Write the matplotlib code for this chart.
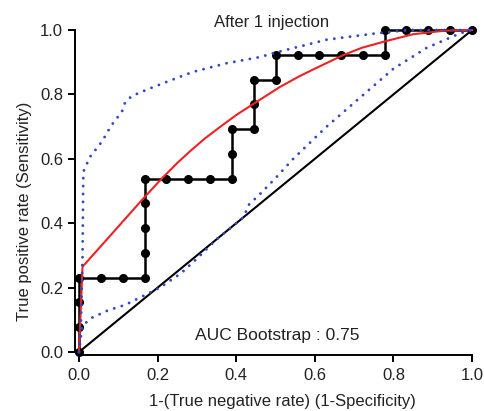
import matplotlib
matplotlib.use("Agg")
import matplotlib.pyplot as plt

plt.rcParams['font.family'] = ['Liberation Sans', 'DejaVu Sans']

# Empirical ROC (step curve with points)
fpr = [0, 0, 0, 0, 0.056, 0.111, 0.167, 0.167, 0.167, 0.167, 0.167,
       0.222, 0.278, 0.333, 0.389, 0.389, 0.389, 0.444, 0.444, 0.444,
       0.5, 0.5, 0.556, 0.611, 0.667, 0.722, 0.778, 0.778, 0.833, 0.889,
       0.944, 1.0]
tpr = [0, 0.077, 0.154, 0.231, 0.231, 0.231, 0.231, 0.308, 0.385, 0.462,
       0.538, 0.538, 0.538, 0.538, 0.538, 0.615, 0.692, 0.692, 0.769, 0.846,
       0.846, 0.923, 0.923, 0.923, 0.923, 0.923, 0.923, 1.0, 1.0, 1.0,
       1.0, 1.0]

# Smoothed (bootstrap) ROC curve
smooth_x = [0, 0.009, 0.08, 0.16, 0.21, 0.25, 0.282, 0.32, 0.36, 0.40, 0.443,
            0.511, 0.56, 0.6, 0.672, 0.72, 0.779, 0.85, 0.93, 1.0]
smooth_y = [0, 0.265, 0.362, 0.472, 0.538, 0.587, 0.623, 0.663, 0.70, 0.736,
            0.77, 0.823, 0.856, 0.88, 0.922, 0.945, 0.965, 0.987, 0.998, 1.0]

# Confidence band (upper)
upper_x = [0, 0.005, 0.009, 0.011, 0.028, 0.058, 0.083, 0.109, 0.117, 0.134,
           0.181, 0.223, 0.29, 0.376, 0.46, 0.5, 0.63, 0.758, 0.84, 1.0]
upper_y = [0, 0.1, 0.3, 0.56, 0.606, 0.653, 0.705, 0.746, 0.774, 0.795,
           0.819, 0.839, 0.87, 0.897, 0.916, 0.93, 0.97, 0.99, 1.0, 1.0]

# Confidence band (lower)
lower_x = [0, 0.008, 0.03, 0.075, 0.117, 0.16, 0.206, 0.26, 0.30, 0.35,
           0.42, 0.43, 0.46, 0.50, 0.545, 0.63, 0.715, 0.80, 0.885, 0.97, 1.0]
lower_y = [0, 0.08, 0.105, 0.13, 0.146, 0.172, 0.2, 0.245, 0.29, 0.35,
           0.42, 0.455, 0.49, 0.54, 0.60, 0.70, 0.79, 0.88, 0.945, 0.99, 1.0]

diag = [0, 1]
ticks = [0.0, 0.2, 0.4, 0.6, 0.8, 1.0]
tick_labels = ["0.0", "0.2", "0.4", "0.6", "0.8", "1.0"]

W, H = 485, 411
fig = plt.figure(figsize=(W / 100, H / 100), dpi=100)
ax = fig.add_axes([75 / W, (H - 355) / H, (479.9 - 75) / W, (355 - 23.6) / H])
ax.set_xlim(-0.0102, 1.02)
ax.set_ylim(-0.0093, 1.02)

blue = '#3446C8'
ax.plot(diag, diag, color='black', lw=1.5, zorder=2)
ax.plot(fpr, tpr, color='black', lw=1.8, marker='o', ms=5.5,
        zorder=3, clip_on=False)
ax.plot(smooth_x, smooth_y, color='#EE2222', lw=1.5, zorder=4, clip_on=False)
dot_style = (0, (0.01, 2.7))
ax.plot(upper_x, upper_y, color=blue, lw=2.1, linestyle=dot_style,
        dash_capstyle='round', zorder=5, clip_on=False)
ax.plot(lower_x, lower_y, color=blue, lw=2.1, linestyle=dot_style,
        dash_capstyle='round', zorder=5, clip_on=False)

for s in ['top', 'right']:
    ax.spines[s].set_visible(False)
for s in ['left', 'bottom']:
    ax.spines[s].set_linewidth(1.4)
ax.spines['left'].set_bounds(0, 1)
ax.spines['bottom'].set_bounds(0, 1)

ax.set_xticks(ticks)
ax.set_xticklabels(tick_labels)
ax.set_yticks(ticks)
ax.set_yticklabels(tick_labels)
ax.tick_params(axis='both', length=5, width=1.4, labelsize=12,
               labelcolor='#222222')
ax.tick_params(axis='x', pad=4)
ax.tick_params(axis='y', pad=3.5)

fig.text(271.5 / W, (H - 26.7) / H, "After 1 injection", ha='center',
         va='baseline', fontsize=12, color='#222222')
ax.text(0.505, 0.05, "AUC Bootstrap : 0.75", ha='center', va='center',
        fontsize=12.5, color='#222222')
fig.text(282 / W, (H - 401) / H, "1-(True negative rate) (1-Specificity)",
         ha='center', va='center', fontsize=12, color='#222222')
fig.text(25 / W, (H - 211) / H, "True positive rate (Sensitivity)",
         ha='center', va='center', rotation=90, fontsize=12, color='#222222')

fig.savefig("out.png", dpi=100)
